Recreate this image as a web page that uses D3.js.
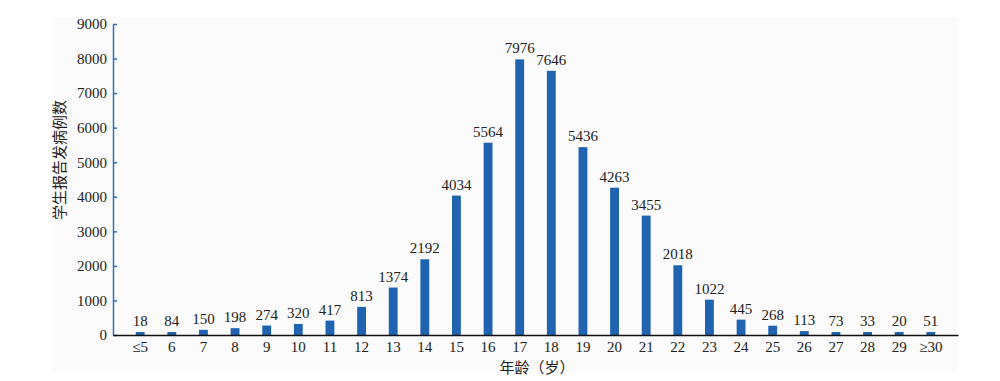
<!DOCTYPE html>
<html>
<head>
<meta charset="utf-8">
<script src="https://cdn.jsdelivr.net/npm/d3@7"></script>
<style>
    body { margin: 0; background: #ffffff; }
    .bar--label { font-family: "Liberation Serif", serif; font-size: 15px; fill: #222; }
    .axis--label { font-family: "Noto Sans CJK SC", sans-serif; font-size: 15px; fill: #222; }
</style>
</head>
<body>
<div id="chart"></div>
<script>
const ages = ["≤5", "6", "7", "8", "9", "10", "11", "12", "13", "14", "15", "16", "17",
    "18", "19", "20", "21", "22", "23", "24", "25", "26", "27", "28", "29", "≥30"];
const cases = [18, 84, 150, 198, 274, 320, 417, 813, 1374, 2192, 4034, 5564, 7976,
    7646, 5436, 4263, 3455, 2018, 1022, 445, 268, 113, 73, 33, 20, 51];
const yTicks = [0, 1000, 2000, 3000, 4000, 5000, 6000, 7000, 8000, 9000];

const width = 1000;
const height = 381;
const margin = {top: 24, left: 113, right: 42, bottom: 46};

const svg = d3.select("#chart")
    .append("svg")
    .attr("width", width)
    .attr("height", height);

// faint paper background
svg.append("rect")
    .attr("x", 52)
    .attr("y", 17)
    .attr("width", 906)
    .attr("height", 356)
    .attr("fill", "#fbfbfb");

const xScale = d3.scaleBand()
    .domain(ages)
    .range([margin.left, width - margin.right])
    .padding(0.72);

const yScale = d3.scaleLinear()
    .domain([0, 9000])
    .range([height - margin.bottom, margin.top]);

const yAxis = svg.append("g")
    .attr("class", "axis")
    .attr("transform", `translate(${margin.left},0)`)
    .call(d3.axisRight(yScale).tickValues(yTicks).tickSize(4).tickSizeOuter(0).tickFormat(d3.format("d")));

yAxis.select(".domain").attr("stroke", "#2f6fb7").attr("stroke-width", 1.5);
yAxis.selectAll(".tick line").attr("stroke", "#2f6fb7").attr("stroke-width", 1.5);
yAxis.selectAll(".tick text")
    .attr("x", -6)
    .attr("text-anchor", "end");

svg.selectAll(".bar")
    .data(cases)
    .enter()
    .append("rect")
        .attr("class", "bar")
        .attr("x", (d, i) => xScale(ages[i]))
        .attr("y", d => Math.min(yScale(d), yScale(0) - 3))
        .attr("width", xScale.bandwidth())
        .attr("height", d => Math.max(yScale(0) - yScale(d), 3))
        .attr("fill", "#1f63b1");

svg.selectAll(".bar--label")
    .data(cases)
    .enter()
    .append("text")
        .attr("class", "bar--label")
        .attr("x", (d, i) => xScale(ages[i]) + xScale.bandwidth() / 2)
        .attr("y", d => Math.min(yScale(d), yScale(0) - 3) - 6)
        .attr("text-anchor", "middle")
        .text(d => d);

const xAxis = svg.append("g")
    .attr("class", "axis")
    .attr("transform", `translate(0,${height - margin.bottom})`)
    .call(d3.axisBottom(xScale).tickSize(0).tickPadding(6));

xAxis.select(".domain").attr("stroke", "#111").attr("stroke-width", 1.5);

svg.selectAll(".axis text")
    .style("font-family", "'Liberation Serif', serif")
    .style("font-size", "15px")
    .style("fill", "#222");

svg.append("text")
    .attr("class", "axis--label")
    .attr("x", 537)
    .attr("y", 373)
    .attr("text-anchor", "middle")
    .text("年龄（岁）");

svg.append("text")
    .attr("class", "axis--label")
    .attr("transform", "rotate(-90)")
    .attr("x", -160)
    .attr("y", 65)
    .attr("text-anchor", "middle")
    .text("学生报告发病例数");
</script>
</body>
</html>
